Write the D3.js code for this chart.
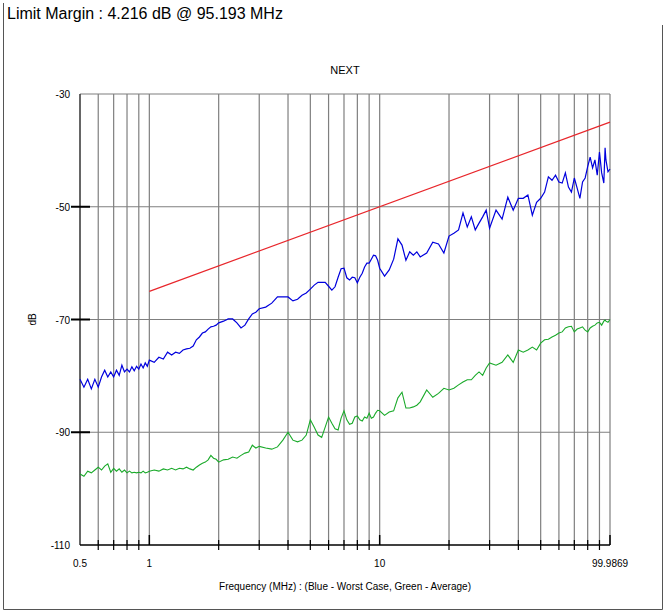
<!DOCTYPE html>
<html>
<head>
<meta charset="utf-8">
<script src="https://cdn.jsdelivr.net/npm/d3@7"></script>
<style>
  body { margin: 0; background: #fff; }
  text { font-family: "Liberation Sans", Arial, sans-serif; }
</style>
</head>
<body>
<svg width="667" height="612"></svg>
<script>
// frequency grid (MHz) the traces were read at
let freqs = [0.50,0.52,0.54,0.56,0.58,0.60,0.62,0.64,0.66,0.68,0.70,0.72,0.74,0.76,0.78,0.80,0.82,0.84,0.86,0.88,0.90,0.92,0.94,0.96,0.98,
    1.00,1.05,1.10,1.15,1.20,1.25,1.30,1.35,1.40,1.45,1.50,1.55,1.60,1.65,1.70,1.75,1.80,1.85,1.90,1.95,
    2.0,2.1,2.2,2.3,2.4,2.5,2.6,2.7,2.8,2.9,3.0,3.2,3.4,3.6,3.8,4.0,4.2,4.4,4.6,4.8,
    5.0,5.2,5.4,5.6,5.8,6.0,6.2,6.4,6.6,6.8,7.0,7.2,7.4,7.6,7.8,8.0,8.2,8.4,8.6,8.8,9.0,9.2,9.4,9.6,9.8,
    10,10.5,11,11.5,12,12.5,13,13.5,14,14.5,15,16,17,18,19,
    20,21,22,23,24,25,26,27,28,29,30,32,34,36,38,40,42,44,46,48,
    50,52,54,56,58,60,62,64,66,68,70,72,74,76,78,80,82,84,86,88,90,92,94,95.193,96,98,99.9869];

// worst case (blue), dB
let worst = [-80.6,-82.0,-80.6,-82.3,-80.6,-82.0,-80.2,-79.0,-80.2,-79.3,-80.2,-79.0,-79.9,-78.1,-79.3,-78.8,-79.3,-78.4,-79.1,-78.3,-78.8,-77.9,-78.6,-77.7,-78.3,
    -77.2,-77.6,-76.7,-77.0,-75.8,-76.3,-75.8,-76.0,-75.4,-75.2,-75.1,-74.7,-73.6,-73.1,-72.4,-72.2,-71.7,-71.3,-71.2,-71.0,
    -70.6,-70.3,-69.9,-69.9,-70.6,-71.5,-71.0,-69.9,-69.0,-68.7,-68.1,-67.8,-67.1,-66.0,-66.0,-66.0,-66.7,-66.4,-65.7,-65.3,
    -64.6,-63.9,-63.4,-63.4,-63.4,-64.1,-64.8,-64.2,-62.5,-61.0,-60.9,-62.6,-63.0,-62.5,-62.6,-63.5,-62.5,-61.8,-60.7,-60.0,-60.0,-59.3,-58.6,-58.7,-59.5,
    -60.9,-62.3,-61.2,-59.3,-55.7,-56.8,-59.5,-58.0,-58.6,-58.0,-58.9,-58.2,-56.3,-56.6,-58.2,
    -55.2,-54.7,-54.1,-51.1,-53.6,-51.8,-54.1,-52.9,-51.8,-50.6,-53.8,-50.6,-52.2,-48.3,-50.6,-48.5,-48.5,-47.9,-51.5,-49.2,
    -48.5,-47.4,-44.7,-45.3,-44.4,-45.6,-45.8,-44.0,-46.5,-47.4,-44.9,-46.7,-48.5,-45.6,-44.9,-42.9,-41.2,-43.1,-41.7,-44.4,-40.3,-44.0,-45.8,-39.54,-41.7,-43.8,-43.3];

// average (green), dB
let average = [-97.4,-97.8,-96.9,-97.2,-96.7,-96.2,-96.7,-96.0,-95.6,-97.1,-96.4,-96.9,-96.5,-97.1,-96.7,-97.2,-96.9,-97.2,-97.1,-97.2,-97.1,-97.2,-96.9,-97.2,-97.1,
    -96.9,-96.7,-96.9,-96.5,-96.7,-96.4,-96.7,-96.4,-96.5,-96.2,-96.5,-96.7,-96.2,-95.8,-95.5,-95.3,-94.9,-94.1,-94.6,-94.8,
    -95.3,-94.9,-94.8,-94.4,-94.6,-94.1,-93.7,-93.5,-92.3,-92.8,-92.5,-92.8,-93.0,-92.6,-91.4,-90.0,-91.4,-91.7,-91.4,-90.5,
    -87.8,-89.1,-90.5,-90.9,-89.1,-87.3,-88.4,-89.4,-89.6,-87.5,-86.2,-87.8,-88.6,-88.4,-87.3,-87.1,-87.8,-88.0,-87.3,-87.5,-86.6,-87.5,-87.3,-86.6,-86.1,
    -86.2,-87.0,-86.4,-86.2,-83.9,-82.9,-85.7,-85.7,-85.5,-85.2,-84.6,-82.5,-83.8,-83.1,-82.2,
    -82.5,-82.2,-81.6,-81.1,-80.7,-80.7,-79.9,-79.3,-79.9,-78.6,-77.7,-78.1,-77.6,-76.3,-77.6,-75.4,-75.8,-75.4,-74.9,-75.4,
    -74.2,-73.6,-73.5,-73.1,-72.8,-72.4,-72.2,-71.5,-71.3,-71.2,-72.2,-71.7,-71.5,-71.3,-71.9,-72.2,-71.5,-71.2,-71.0,-70.6,-70.5,-71.0,-70.3,-70.1,-70.3,-70.5,-70.0];

// limit line (red)
let limitFreqs = [1, 99.9869];
let limitDb = [-65, -35];

let gridFreqs = [0.6,0.7,0.8,0.9,1,2,3,4,5,6,7,8,9,10,20,30,40,50,60,70,80,90,99.9869];
let majorFreqs = [1, 10, 99.9869];
let xTickLabels = [0.5, 1, 10, 99.9869];
let yTicks = [-30, -50, -70, -90, -110];
let yGrid = [-30, -50, -70, -90];

let svg = d3.select("svg");
let x = d3.scaleLog().domain([0.5, 99.9869]).range([80, 610]);
let y = d3.scaleLinear().domain([-110, -30]).range([545, 94]);

// outer frame
svg.append("path")
    .attr("d", "M3.5,3 V609.5 H662.5 V25")
    .attr("fill", "none").attr("stroke", "#555").attr("stroke-width", 1);

svg.append("text").attr("x", 7).attr("y", 19)
    .attr("font-size", 16).attr("fill", "#000")
    .text("Limit Margin : 4.216 dB @ 95.193 MHz");

svg.append("text").attr("x", 345).attr("y", 74)
    .attr("text-anchor", "middle").attr("font-size", 11)
    .text("NEXT");

// grid
svg.append("g").selectAll("line").data(gridFreqs).join("line")
    .attr("x1", d => x(d)).attr("x2", d => x(d))
    .attr("y1", y(-30)).attr("y2", y(-110))
    .attr("stroke", "#7f7f7f").attr("stroke-width", 1.2);

svg.append("g").selectAll("line").data(yGrid).join("line")
    .attr("x1", x(0.5)).attr("x2", x(99.9869))
    .attr("y1", d => y(d)).attr("y2", d => y(d))
    .attr("stroke", "#7f7f7f").attr("stroke-width", 1.2);

// left axis
svg.append("line").attr("x1", 80).attr("x2", 80)
    .attr("y1", y(-30)).attr("y2", y(-110))
    .attr("stroke", "#333").attr("stroke-width", 1.5);

svg.append("g").selectAll("line").data(yTicks.filter(d => d > -110 && d < -30)).join("line")
    .attr("x1", 71).attr("x2", 90)
    .attr("y1", d => y(d)).attr("y2", d => y(d))
    .attr("stroke", "#000").attr("stroke-width", 2);

svg.append("g").selectAll("text").data(yTicks).join("text")
    .attr("x", 70).attr("y", d => y(d) + 4)
    .attr("text-anchor", "end").attr("font-size", 10)
    .text(d => d);

svg.append("text")
    .attr("transform", "translate(36," + y(-70) + ") rotate(-90)")
    .attr("text-anchor", "middle").attr("font-size", 10)
    .text("dB");

// bottom axis
svg.append("line").attr("x1", 80).attr("x2", 610)
    .attr("y1", y(-110)).attr("y2", y(-110))
    .attr("stroke", "#000").attr("stroke-width", 1.5);

svg.append("g").selectAll("line").data(gridFreqs.filter(d => majorFreqs.indexOf(d) < 0)).join("line")
    .attr("x1", d => x(d)).attr("x2", d => x(d))
    .attr("y1", y(-110) - 5).attr("y2", y(-110) + 5)
    .attr("stroke", "#000").attr("stroke-width", 1.2);

svg.append("g").selectAll("line").data(majorFreqs).join("line")
    .attr("x1", d => x(d)).attr("x2", d => x(d))
    .attr("y1", y(-110) - 10).attr("y2", y(-110))
    .attr("stroke", "#000").attr("stroke-width", 1.5);

svg.append("g").selectAll("text").data(xTickLabels).join("text")
    .attr("x", d => x(d)).attr("y", y(-110) + 22)
    .attr("text-anchor", "middle").attr("font-size", 10)
    .text(d => d);

svg.append("text").attr("x", 345).attr("y", 590)
    .attr("text-anchor", "middle").attr("font-size", 10)
    .text("Frequency (MHz) : (Blue - Worst Case, Green - Average)");

// traces
let line = d3.line().x(d => x(d[0])).y(d => y(d[1]));

svg.append("path")
    .datum(limitFreqs.map((f, i) => [f, limitDb[i]]))
    .attr("d", line).attr("fill", "none")
    .attr("stroke", "#e8262b").attr("stroke-width", 1.2);

svg.append("path")
    .datum(freqs.map((f, i) => [f, average[i]]))
    .attr("d", line).attr("fill", "none")
    .attr("stroke", "#1aaa2a").attr("stroke-width", 1.1);

svg.append("path")
    .datum(freqs.map((f, i) => [f, worst[i]]))
    .attr("d", line).attr("fill", "none")
    .attr("stroke", "#0000dd").attr("stroke-width", 1.2);
</script>
</body>
</html>
